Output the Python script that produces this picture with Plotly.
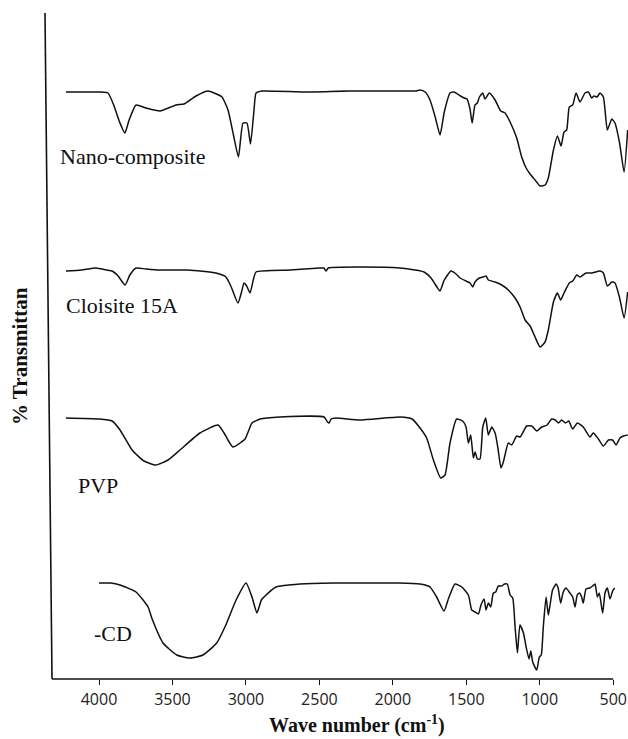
import plotly.graph_objects as go

# ---- data (wavenumber in cm-1, transmittance in arbitrary offset units) ----
nano_wn = [4225, 3990, 3939, 3900, 3860, 3824, 3795, 3748, 3680, 3585, 3476, 3421, 3340, 3258, 3200, 3163,
           3122, 3085, 3051, 3020, 2993, 2969, 2945, 2931, 2890, 2600, 2300, 2000, 1842, 1815, 1780, 1747,
           1710, 1679, 1650, 1611, 1584, 1540, 1515, 1495, 1475, 1460, 1441, 1425, 1411, 1388, 1373, 1343,
           1304, 1266, 1236, 1202, 1157, 1123, 1093, 1066, 1032, 998, 964, 942, 907, 880, 855, 835, 817,
           799, 776, 753, 726, 692, 669, 647, 631, 610, 590, 567, 540, 510, 488, 458, 426, 402]
nano_px = [92, 92, 93, 105, 122, 133, 120, 105, 108, 111, 105, 104, 96, 91, 94, 97,
           110, 135, 157, 123, 123, 144, 110, 93, 91, 92, 91, 91, 91, 90, 92, 100,
           118, 135, 112, 93, 92, 96, 98, 99, 109, 123, 105, 103, 97, 93, 99, 93,
           100, 111, 113, 122, 138, 157, 168, 174, 180, 186, 185, 178, 150, 136, 146, 132, 130,
           107, 105, 93, 102, 93, 92, 98, 96, 97, 93, 97, 130, 119, 123, 142, 172, 130]

clo_wn = [4225, 4120, 4020, 3950, 3911, 3870, 3823, 3790, 3748, 3680, 3585, 3394, 3204, 3136, 3100, 3054,
          3030, 3013, 2995, 2972, 2950, 2931, 2700, 2496, 2470, 2455, 2440, 2223, 1951, 1850, 1788, 1740,
          1700, 1679, 1650, 1604, 1570, 1543, 1502, 1475, 1456, 1441, 1411, 1384, 1366, 1350, 1304, 1259,
          1214, 1168, 1134, 1100, 1066, 1032, 998, 964, 942, 907, 880, 858, 835, 799, 776, 748, 726, 685,
          647, 590, 567, 540, 510, 488, 458, 426, 402]
clo_px = [271, 270, 268, 270, 271, 276, 285, 275, 268, 269, 270, 270, 273, 277, 287, 303,
          292, 283, 286, 293, 280, 272, 270, 268, 268, 271, 268, 267, 268, 270, 272, 278,
          287, 291, 280, 271, 274, 278, 281, 283, 287, 282, 278, 277, 276, 280, 282, 285,
          290, 298, 307, 320, 326, 337, 347, 342, 330, 302, 293, 300, 293, 283, 281, 275, 277, 273,
          273, 271, 273, 286, 282, 283, 297, 318, 292]

pvp_wn = [4225, 4000, 3911, 3857, 3775, 3694, 3612, 3530, 3449, 3313, 3190, 3149, 3110, 3088, 3040, 3006,
          2980, 2959, 2904, 2768, 2468, 2445, 2434, 2420, 2387, 2223, 1951, 1869, 1815, 1770, 1724, 1674,
          1645, 1611, 1566, 1525, 1502, 1486, 1470, 1452, 1440, 1425, 1407, 1388, 1368, 1350, 1327, 1304,
          1286, 1264, 1248, 1214, 1191, 1157, 1134, 1089, 1055, 1021, 987, 950, 919, 895, 873, 851, 825,
          803, 776, 744, 704, 658, 636, 601, 567, 533, 505, 481, 454, 430, 402]
pvp_px = [418, 419, 421, 430, 450, 461, 465, 460, 450, 433, 425, 433, 443, 447, 443, 439,
          430, 423, 419, 417, 417, 422, 423, 419, 418, 420, 417, 419, 428, 438, 460, 478,
          475, 443, 419, 421, 427, 443, 435, 458, 452, 459, 459, 427, 418, 435, 427, 433,
          447, 468, 462, 443, 445, 436, 437, 426, 426, 431, 427, 425, 419, 420, 423, 420, 423,
          421, 429, 423, 427, 437, 433, 439, 446, 440, 440, 445, 438, 436, 435]

cd_wn = [4000, 3920, 3857, 3748, 3666, 3641, 3564, 3471, 3381, 3292, 3199, 3140, 3067, 2999, 2959,
         2925, 2895, 2877, 2795, 2632, 2400, 2200, 1960, 1815, 1760, 1747, 1702, 1652, 1620, 1577, 1531,
         1486, 1463, 1441, 1418, 1400, 1379, 1366, 1350, 1334, 1316, 1300, 1282, 1260, 1240, 1221, 1202,
         1184, 1168, 1152, 1135, 1111, 1093, 1073, 1061, 1048, 1021, 1003, 990, 976, 957, 942, 930, 913,
         889, 875, 858, 840, 821, 800, 776, 760, 745, 730, 715, 704, 685, 660, 640, 624, 608, 595, 572,
         556, 540, 522, 504, 490]
cd_px = [583, 583, 585, 592, 607, 618, 643, 655, 658, 655, 643, 626, 600, 583, 597,
         613, 600, 597, 587, 584, 583, 583, 583, 584, 586, 587, 597, 611, 598, 584, 587,
         595, 610, 612, 614, 605, 599, 610, 603, 607, 593, 592, 586, 586, 584, 584, 595,
         598, 627, 653, 625, 633, 647, 659, 651, 662, 670, 657, 655, 627, 597, 615, 605, 590,
         584, 588, 603, 592, 588, 592, 597, 607, 595, 593, 597, 603, 589, 588, 586, 584, 597, 593, 613,
         593, 588, 599, 591, 588]

series_names = ["Nano-composite", "Cloisite 15A", "PVP", "-CD"]
label_wn = [4279, 4238, 4157, 4048]
label_px = [156, 305, 485, 633]
tick_vals = [4000, 3500, 3000, 2500, 2000, 1500, 1000, 500]
tick_text = ["4000", "3500", "3000", "2500", "2000", "1500", "1000", "500"]

BASE = 679  # baseline reference for offset transmittance units


def to_t(px):
    return [BASE - v for v in px]


fig = go.Figure()
for wn, px, name in [(nano_wn, nano_px, series_names[0]), (clo_wn, clo_px, series_names[1]),
                     (pvp_wn, pvp_px, series_names[2]), (cd_wn, cd_px, series_names[3])]:
    fig.add_trace(go.Scatter(x=wn, y=to_t(px), mode="lines", name=name,
                             line=dict(color="#111111", width=1.5, shape="spline", smoothing=0.5),
                             showlegend=False, hoverinfo="skip"))

for name, lw, lp in zip(series_names, label_wn, label_px):
    fig.add_annotation(x=lw, y=BASE - lp, xref="x", yref="y", text=name, showarrow=False,
                       xanchor="left", yanchor="middle",
                       font=dict(family="Liberation Serif", size=22, color="#111111"))

# axis lines
fig.add_shape(type="line", xref="paper", yref="paper", x0=-7 / 576, y0=1, x1=0, y1=0,
              line=dict(color="#111111", width=1.6))
fig.add_shape(type="line", xref="x", yref="paper", x0=4320, x1=500, y0=0, y1=0,
              line=dict(color="#111111", width=1.6))

fig.add_annotation(x=(20 - 52) / 576, y=(BASE - 356) / 666, xref="paper", yref="paper",
                   text="<b>% Transmittan</b>", textangle=-90, showarrow=False,
                   xanchor="center", yanchor="middle",
                   font=dict(family="Liberation Serif", size=21, color="#111111"))
fig.add_annotation(x=(357 - 52) / 576, y=(BASE - 725) / 666, xref="paper", yref="paper",
                   text="<b>Wave number (cm<sup>-1</sup>)</b>", showarrow=False,
                   xanchor="center", yanchor="middle", borderpad=0,
                   font=dict(family="Liberation Serif", size=20, color="#111111"))

fig.update_layout(
    width=628, height=739,
    margin=dict(l=52, r=0, t=13, b=60),
    paper_bgcolor="white", plot_bgcolor="white",
    xaxis=dict(range=[4320, 399.5], showgrid=False, zeroline=False, showline=False,
               tickmode="array", tickvals=tick_vals, ticktext=tick_text,
               ticks="outside", ticklen=5, tickwidth=1.3, tickcolor="#111111",
               ticklabelstandoff=1,
               tickfont=dict(family="Open Sans", size=16, color="#222222")),
    yaxis=dict(range=[0, 666], showgrid=False, zeroline=False, showline=False,
               showticklabels=False, ticks=""),
)

fig.write_html("out.html")
